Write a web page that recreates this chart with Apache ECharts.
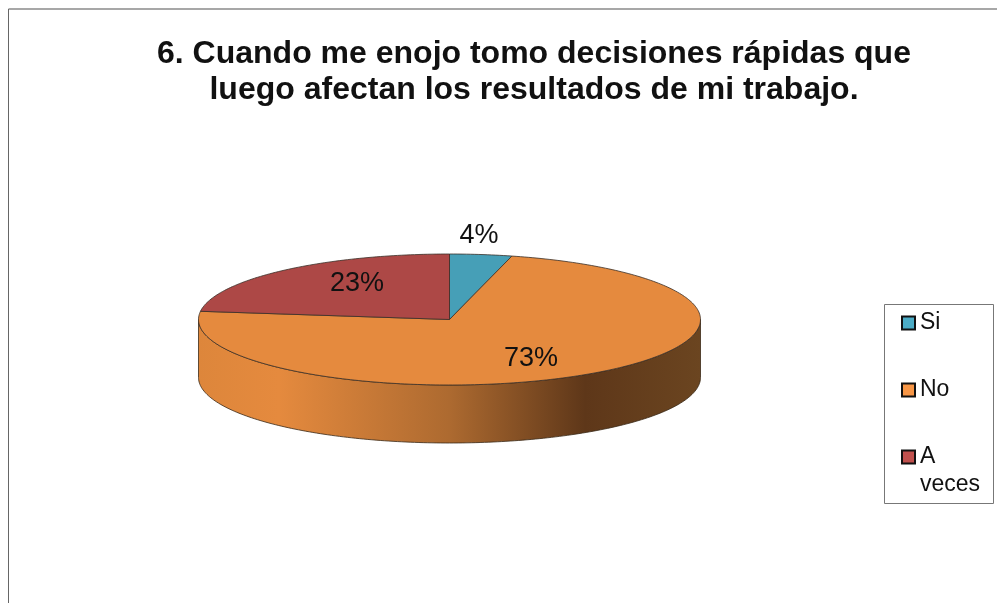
<!DOCTYPE html>
<html>
<head>
<meta charset="utf-8">
<style>
  html, body { margin: 0; padding: 0; background: #fff; }
  #chart { width: 997px; height: 603px; }
</style>
<script src="https://cdn.jsdelivr.net/npm/echarts@6/dist/echarts.min.js"></script>
</head>
<body>
<div id="chart"></div>
<script>
const titleLines = ['6. Cuando me enojo tomo decisiones rápidas que', 'luego afectan los resultados de mi trabajo.'];
const categories = ['Si', 'No', 'A veces'];
// three lines each, so the swatch (vertically centred on the label) lines up with the middle line
const legendLabels = [' \nSi\n ', ' \nNo\n ', ' \nA\nveces'];
const percentValues = [4, 73, 23];

const topColors = ['#469FB7', '#E58A3E', '#AD4846'];
const legendColors = ['#4BACC6', '#F79646', '#C0504D'];
// where each % label sits, as a fraction of the radii along the slice's mid angle
const labelFactors = [[0.94, 1.32], [0.578, 0.69], [0.557, 0.763]];

const FONT = '"Liberation Sans", Arial, sans-serif';
const CX = 449.5, CY = 319.5, RX = 251, RY = 65.5, DEPTH = 58;
const total = percentValues.reduce((a, b) => a + b, 0);

// angles are clockwise from 12 o'clock
function rimPoint(deg, yOffset) {
  const r = deg * Math.PI / 180;
  return [CX + RX * Math.sin(r), CY - RY * Math.cos(r) + (yOffset || 0)];
}
function arcPoints(from, to, yOffset) {
  const pts = [];
  const n = Math.max(2, Math.ceil(Math.abs(to - from)));
  for (let i = 0; i <= n; i++) pts.push(rimPoint(from + (to - from) * i / n, yOffset));
  return pts;
}

const wallGradient = {
  type: 'linear', x: 0, y: 0, x2: 1, y2: 0,
  colorStops: [
    { offset: 0, color: '#DD863B' },
    { offset: 0.16, color: '#E58A3E' },
    { offset: 0.5, color: '#AD6A30' },
    { offset: 0.77, color: '#5E3719' },
    { offset: 1, color: '#6B4520' }
  ]
};

function renderSlice(params, api) {
  const idx = params.seriesIndex;
  const value = api.value(0);
  const before = percentValues.slice(0, idx).reduce((a, b) => a + b, 0);
  const start = before / total * 360;
  const end = (before + value) / total * 360;
  const children = [];

  // side wall only on the front half of the rim
  const wallFrom = Math.max(start, 90), wallTo = Math.min(end, 270);
  if (wallTo > wallFrom) {
    const topArc = arcPoints(wallFrom, wallTo, 0);
    const bottomArc = arcPoints(wallTo, wallFrom, DEPTH);
    children.push({
      type: 'polygon',
      shape: { points: topArc.concat(bottomArc) },
      style: { fill: wallGradient, stroke: '#3A2A18', lineWidth: 0.8 }
    });
  }

  children.push({
    type: 'polygon',
    shape: { points: [[CX, CY]].concat(arcPoints(start, end, 0)) },
    style: { fill: topColors[idx], stroke: '#3A3028', lineWidth: 0.8 }
  });

  const mid = (start + end) / 2 * Math.PI / 180;
  const f = labelFactors[idx];
  children.push({
    type: 'text',
    z2: 10,
    style: {
      text: value + '%',
      x: CX + RX * f[0] * Math.sin(mid),
      y: CY - RY * f[1] * Math.cos(mid) + 1.5,
      align: 'center',
      verticalAlign: 'middle',
      fill: '#111',
      font: '27px ' + FONT
    }
  });
  return { type: 'group', children: children };
}

const chart = echarts.init(document.getElementById('chart'), null, { renderer: 'canvas' });
chart.setOption({
  animation: false,
  backgroundColor: '#fff',
  graphic: [
    { type: 'line', shape: { x1: 8.5, y1: 9, x2: 997, y2: 9 }, style: { stroke: '#8A8A8A', lineWidth: 1.5 } },
    { type: 'line', shape: { x1: 8.5, y1: 9, x2: 8.5, y2: 603 }, style: { stroke: '#666', lineWidth: 1 } },
    { type: 'rect', shape: { x: 884.5, y: 304.5, width: 109, height: 199 }, style: { fill: '#fff', stroke: '#777', lineWidth: 1 } },
    {
      type: 'text',
      style: {
        text: titleLines.join('\n'),
        x: 534, y: 72,
        align: 'center',
        verticalAlign: 'middle',
        lineHeight: 36,
        fill: '#111',
        font: 'bold 32px ' + FONT
      }
    }
  ],
  legend: {
    orient: 'vertical',
    left: 901,
    top: 281,
    padding: 0,
    itemWidth: 13,
    itemHeight: 13,
    itemGap: -17,
    selectedMode: false,
    z: 5,
    formatter: function (name) { return legendLabels[categories.indexOf(name)]; },
    textStyle: { fontFamily: FONT, fontSize: 23, color: '#111', lineHeight: 28 },
    data: categories.map((name, i) => ({
      name: name,
      icon: 'rect',
      itemStyle: { color: legendColors[i], borderColor: '#111', borderWidth: 2 }
    }))
  },
  series: categories.map((name, i) => ({
    type: 'custom',
    name: name,
    coordinateSystem: 'none',
    silent: true,
    itemStyle: { color: legendColors[i] },
    renderItem: renderSlice,
    data: [[percentValues[i]]]
  }))
});
</script>
</body>
</html>
